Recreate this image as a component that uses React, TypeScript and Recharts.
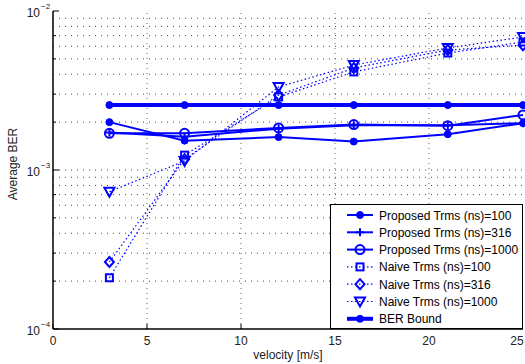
import { LineChart, Line, XAxis, YAxis, ReferenceLine, Legend } from 'recharts'

const velocity = [3, 7, 12, 16, 21, 25]
const proposed100 = [2.0e-3, 1.53e-3, 1.61e-3, 1.51e-3, 1.68e-3, 1.97e-3]
const proposed316 = [1.72e-3, 1.62e-3, 1.82e-3, 1.91e-3, 1.91e-3, 1.97e-3]
const proposed1000 = [1.7e-3, 1.7e-3, 1.84e-3, 1.93e-3, 1.9e-3, 2.22e-3]
const naive100 = [2.1e-4, 1.24e-3, 2.88e-3, 4.14e-3, 5.44e-3, 6.38e-3]
const naive316 = [2.64e-4, 1.17e-3, 2.96e-3, 4.38e-3, 5.68e-3, 6.1e-3]
const naive1000 = [7.3e-4, 1.14e-3, 3.33e-3, 4.57e-3, 5.86e-3, 6.86e-3]
const berBound = [2.56e-3, 2.56e-3, 2.56e-3, 2.56e-3, 2.56e-3, 2.56e-3]

const xTicks = [0, 5, 10, 15, 20, 25]
const xGrid = [5, 10, 15, 20]
const decades = [1e-4, 1e-3, 1e-2]
const yTicks = [
  1e-4, 2e-4, 3e-4, 4e-4, 5e-4, 6e-4, 7e-4, 8e-4, 9e-4,
  1e-3, 2e-3, 3e-3, 4e-3, 5e-3, 6e-3, 7e-3, 8e-3, 9e-3, 1e-2,
]
const yGrid = yTicks.filter((v) => v > 1e-4 && v < 1e-2)

const BLUE = '#0000ff'
const FONT = '"Liberation Sans", Arial, sans-serif'

const data = velocity.map((v, i) => ({
  v,
  p100: proposed100[i],
  p316: proposed316[i],
  p1000: proposed1000[i],
  n100: naive100[i],
  n316: naive316[i],
  n1000: naive1000[i],
  bound: berBound[i],
}))

type Shape = 'dot' | 'plus' | 'circle' | 'square' | 'diamond' | 'tri'

function Marker({ cx, cy, shape }: { cx: number; cy: number; shape: Shape }) {
  if (cx == null || cy == null) return null
  switch (shape) {
    case 'dot':
      return <circle cx={cx} cy={cy} r={3.5} fill={BLUE} stroke={BLUE} />
    case 'plus':
      return (
        <g stroke={BLUE} strokeWidth={2}>
          <line x1={cx - 4} x2={cx + 4} y1={cy} y2={cy} />
          <line x1={cx} x2={cx} y1={cy - 4} y2={cy + 4} />
        </g>
      )
    case 'circle':
      return <circle cx={cx} cy={cy} r={4.5} fill="none" stroke={BLUE} strokeWidth={2} />
    case 'square':
      return <rect x={cx - 3.5} y={cy - 3.5} width={7} height={7} fill="none" stroke={BLUE} strokeWidth={2} />
    case 'diamond':
      return (
        <polygon
          points={`${cx},${cy - 5} ${cx + 4.5},${cy} ${cx},${cy + 5} ${cx - 4.5},${cy}`}
          fill="none"
          stroke={BLUE}
          strokeWidth={2}
        />
      )
    case 'tri':
      return (
        <polygon
          points={`${cx - 5},${cy - 4} ${cx + 5},${cy - 4} ${cx},${cy + 5}`}
          fill="none"
          stroke={BLUE}
          strokeWidth={2}
        />
      )
  }
  return null
}

const series: { key: string; name: string; shape: Shape; width: number; dotted: boolean }[] = [
  { key: 'p100', name: 'Proposed Trms (ns)=100', shape: 'dot', width: 2, dotted: false },
  { key: 'p316', name: 'Proposed Trms (ns)=316', shape: 'plus', width: 2, dotted: false },
  { key: 'p1000', name: 'Proposed Trms (ns)=1000', shape: 'circle', width: 2, dotted: false },
  { key: 'n100', name: 'Naive Trms (ns)=100', shape: 'square', width: 1.2, dotted: true },
  { key: 'n316', name: 'Naive Trms (ns)=316', shape: 'diamond', width: 1.2, dotted: true },
  { key: 'n1000', name: 'Naive Trms (ns)=1000', shape: 'tri', width: 1.2, dotted: true },
  { key: 'bound', name: 'BER Bound', shape: 'dot', width: 4, dotted: false },
]

function LeftTick({ x, y, payload }: any) {
  const v = payload.value
  const major = decades.some((d) => Math.abs(d - v) < v * 1e-6)
  const exp = Math.round(Math.log10(v))
  return (
    <g>
      <line x1={x} x2={x + (major ? 6 : 3)} y1={y} y2={y} stroke="#000" />
      {major && (
        <text x={x - 13} y={y + 6} textAnchor="end" fontSize={12} fontFamily={FONT} fill="#222">
          10
        </text>
      )}
      {major && (
        <text x={x - 12} y={y - 2} textAnchor="start" fontSize={8} fontFamily={FONT} fill="#222">
          {'\u2212' + Math.abs(exp)}
        </text>
      )}
    </g>
  )
}

function RightTick({ x, y, payload }: any) {
  const v = payload.value
  const major = decades.some((d) => Math.abs(d - v) < v * 1e-6)
  return <line x1={x} x2={x - (major ? 6 : 3)} y1={y} y2={y} stroke="#000" />
}

function BottomTick({ x, y, payload }: any) {
  return (
    <g>
      <line x1={x} x2={x} y1={y} y2={y - 5} stroke="#000" />
      <text x={x} y={y + 16} textAnchor="middle" fontSize={12} fontFamily={FONT} fill="#222">
        {payload.value}
      </text>
    </g>
  )
}

function TopTick({ x, y }: any) {
  return <line x1={x} x2={x} y1={y} y2={y + 5} stroke="#000" />
}

function YLabel({ viewBox }: any) {
  const cx = viewBox.x + 17
  const cy = viewBox.y + viewBox.height / 2 - 6
  return (
    <text
      x={cx}
      y={cy}
      transform={`rotate(-90 ${cx} ${cy})`}
      textAnchor="middle"
      fontSize={12}
      fontFamily={FONT}
      fill="#222"
    >
      Average BER
    </text>
  )
}

function XLabel({ viewBox }: any) {
  const cx = viewBox.x + viewBox.width / 2
  return (
    <text x={cx} y={359} textAnchor="middle" fontSize={12} fontFamily={FONT} fill="#222">
      velocity [m/s]
    </text>
  )
}

function LegendBox() {
  const rowH = 17.3
  return (
    <svg width={193} height={125} style={{ display: 'block' }}>
      <rect x={0.5} y={0.5} width={192} height={124} fill="#fff" stroke="#000" />
      {series.map((s, i) => {
        const y = 11 + i * rowH
        return (
          <g key={s.key}>
            <line
              x1={17}
              x2={43}
              y1={y}
              y2={y}
              stroke={BLUE}
              strokeWidth={s.width}
              strokeDasharray={s.dotted ? '1.5 2.5' : undefined}
            />
            <Marker cx={30} cy={y} shape={s.shape} />
            <text x={49} y={y + 4.5} fontSize={12} fontFamily={FONT} fill="#000">
              {s.name}
            </text>
          </g>
        )
      })}
    </svg>
  )
}

export default function App() {
  return (
    <div style={{ position: 'absolute', left: 0, top: 0, background: '#fff' }}>
      <LineChart width={525} height={364} data={data} margin={{ top: 11, right: 2, bottom: 0, left: 0 }}>
        <XAxis
          xAxisId="b"
          dataKey="v"
          type="number"
          domain={[0, 25]}
          ticks={xTicks}
          tickSize={0}
          tickMargin={0}
          tickLine={false}
          tick={<BottomTick />}
          height={35}
          stroke="#000"
          strokeWidth={1.5}
          label={<XLabel />}
        />
        <XAxis
          xAxisId="t"
          orientation="top"
          dataKey="v"
          type="number"
          domain={[0, 25]}
          ticks={xTicks}
          tickSize={0}
          tickMargin={0}
          tickLine={false}
          tick={<TopTick />}
          height={0}
          stroke="#000"
          strokeWidth={1.5}
        />
        <YAxis
          yAxisId="l"
          scale="log"
          domain={[1e-4, 1e-2]}
          ticks={yTicks}
          allowDataOverflow
          tickSize={0}
          tickMargin={0}
          tickLine={false}
          tick={<LeftTick />}
          width={53}
          stroke="#000"
          strokeWidth={1.5}
          label={<YLabel />}
        />
        <YAxis
          yAxisId="r"
          orientation="right"
          scale="log"
          domain={[1e-4, 1e-2]}
          ticks={yTicks}
          allowDataOverflow
          tickSize={0}
          tickMargin={0}
          tickLine={false}
          tick={<RightTick />}
          width={0}
          stroke="#000"
          strokeWidth={1.5}
        />
        {yGrid.map((g) => (
          <ReferenceLine key={'y' + g} xAxisId="b" yAxisId="l" y={g} stroke="#444" strokeDasharray="1 5" />
        ))}
        {xGrid.map((g) => (
          <ReferenceLine key={'x' + g} xAxisId="b" yAxisId="l" x={g} stroke="#666" strokeDasharray="1 4" />
        ))}
        {series.map((s) => (
          <Line
            key={s.key}
            xAxisId="b"
            yAxisId="l"
            dataKey={s.key}
            name={s.name}
            stroke={BLUE}
            strokeWidth={s.width}
            strokeDasharray={s.dotted ? '1.5 2.5' : undefined}
            dot={(p: any) => <Marker key={s.key + p.index} cx={p.cx} cy={p.cy} shape={s.shape} />}
            activeDot={false}
            isAnimationActive={false}
          />
        ))}
        <Legend
          layout="vertical"
          align="center"
          verticalAlign="middle"
          content={<LegendBox />}
          wrapperStyle={{ position: 'absolute', left: 330, top: 204, width: 193, height: 125 }}
        />
      </LineChart>
    </div>
  )
}
